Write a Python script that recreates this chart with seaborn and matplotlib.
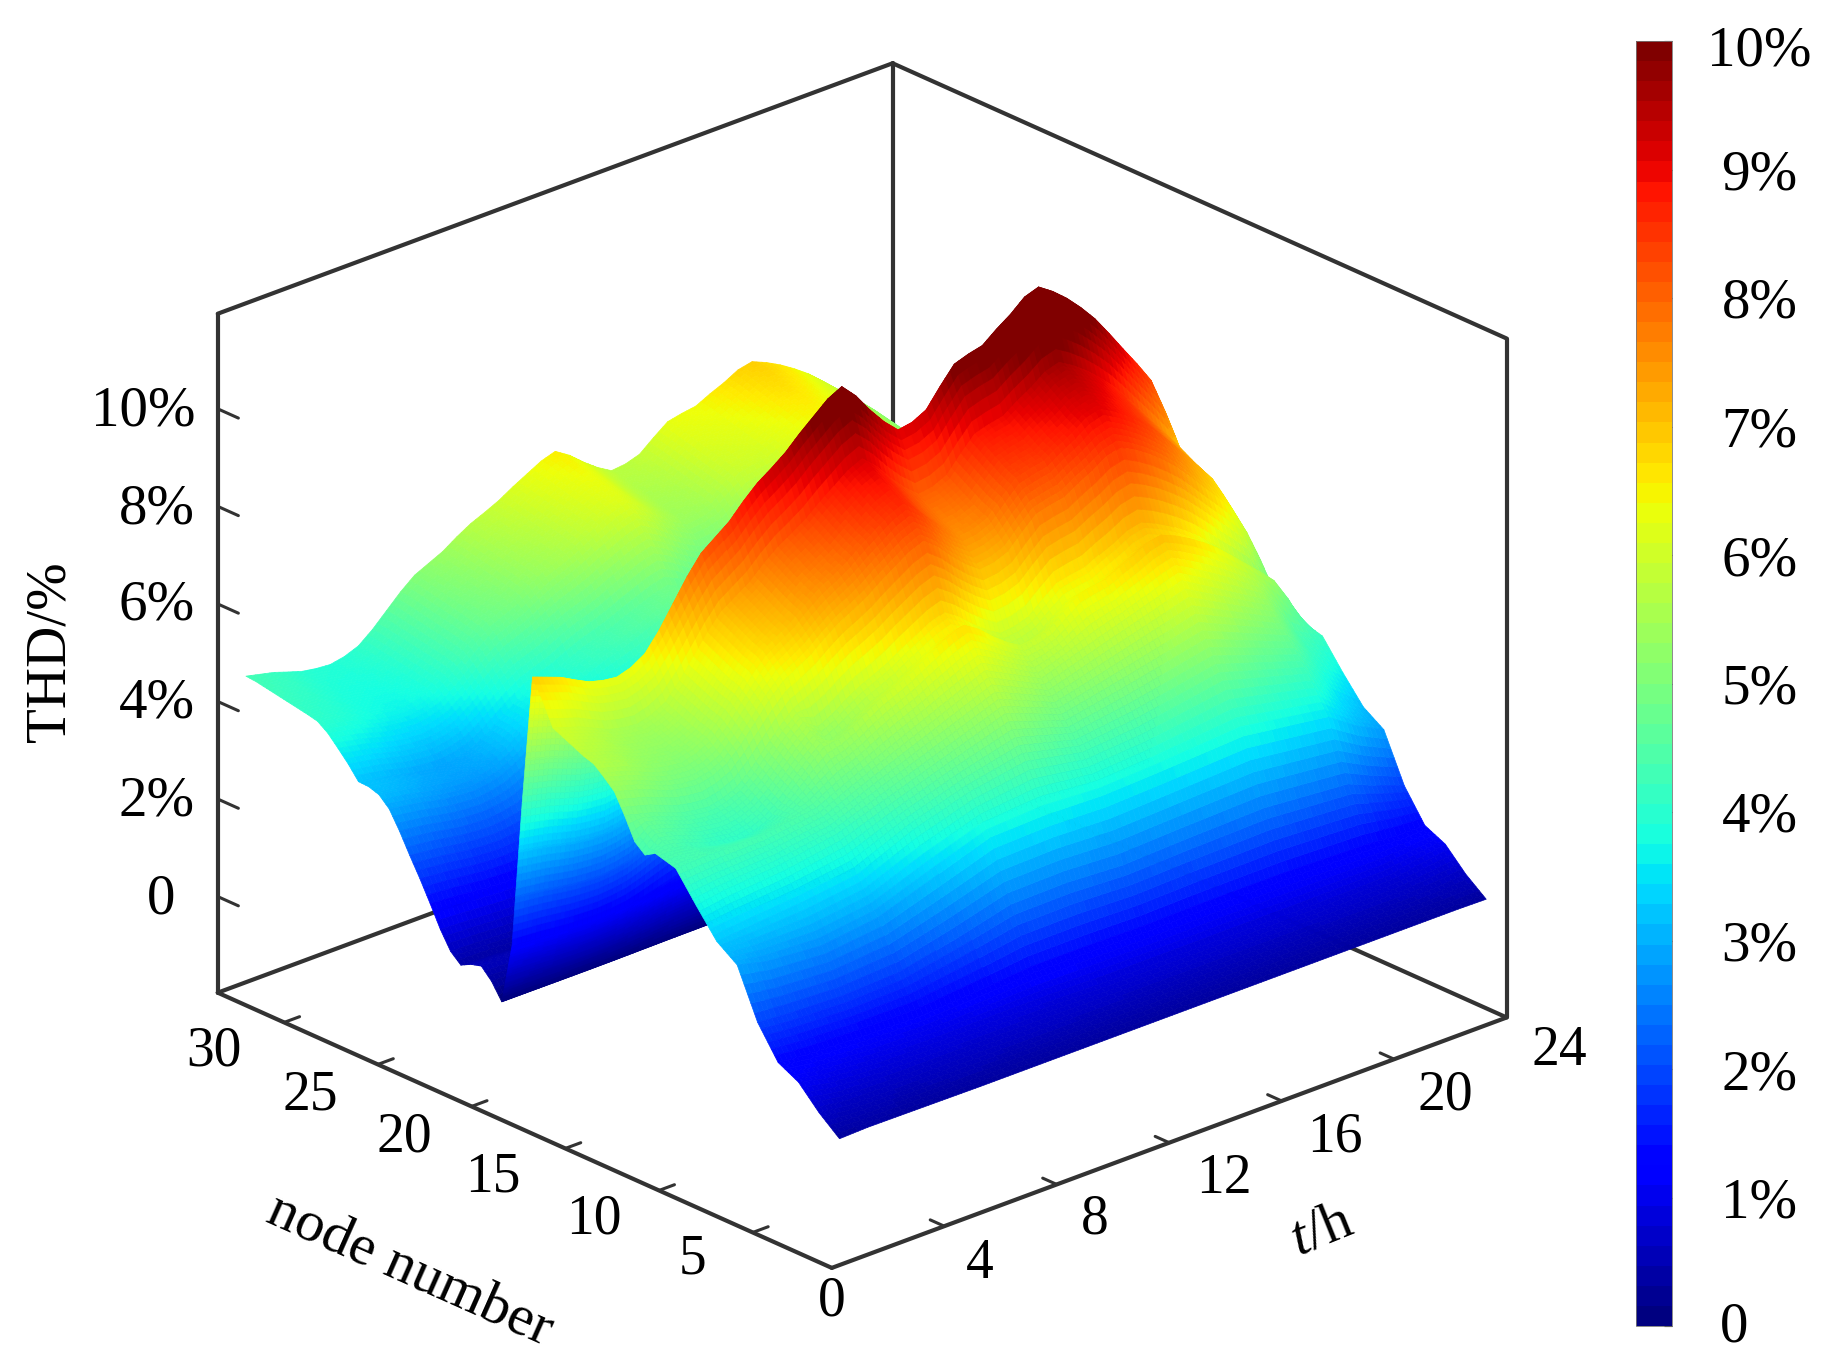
import matplotlib
matplotlib.use("Agg")
import matplotlib.pyplot as plt
from matplotlib.colors import Normalize
from matplotlib.cm import ScalarMappable
from matplotlib.transforms import ScaledTranslation
import numpy as np
import seaborn as sns

# hours and nodes, the node axis really runs to about 33.5
hours = [1 + 0.5 * i for i in range(47)]
nodes = [1.87 + 0.546 * i for i in range(59)]

# THD along the ridge for each half hour, %
ridge_thd = [7.06, 6.95, 6.84, 6.68, 6.53, 6.45, 6.41, 6.5, 6.68, 7.05, 7.5, 7.95,
             8.33, 8.55, 8.77, 9.08, 9.35, 9.55, 9.77, 10.05, 10.3, 10.55, 10.7, 10.4,
             10.0, 9.65, 9.37, 9.42, 9.57, 9.95, 10.3, 10.4, 10.47, 10.7, 10.9, 11.15,
             11.25, 11.05, 10.8, 10.5, 10.16, 9.75, 9.32, 8.9, 8.45, 7.7, 6.8]

# THD along the nodes at hour 1, %
hour1_thd = [0.35, 0.42, 0.7, 0.98, 1.14, 1.28, 1.36, 1.55, 2.0, 2.5, 3.0, 3.27,
             3.3, 3.5, 3.85, 4.17, 4.43, 4.5, 4.55, 4.42, 4.6, 5.05, 5.45, 5.65,
             5.83, 5.9, 6.0, 6.1, 6.2, 6.67, 7.06, 4.37, 1.3, 0.05, 0.38, 0.6,
             0.54, 0.43, 0.62, 0.98, 1.42, 1.84, 2.23, 2.64, 3.0, 3.2, 3.27, 3.28,
             3.55, 3.78, 4.0, 4.15, 4.2, 4.24, 4.28, 4.32, 4.36, 4.4, 4.42]

# the crest around rows 19 to 21 only starts at midday, before that the slope is even
early_crest_thd = [4.62, 4.75, 4.9]

low_hours = [1, 2, 4, 6, 8, 10, 12, 14, 16, 19, 22, 23, 24]
row1_thd = [0.35, 0.37, 0.36, 0.35, 0.35, 0.35, 0.35, 0.35, 0.35, 0.35, 0.35, 0.35, 0.34]
row2_thd = [0.70, 0.62, 0.60, 0.62, 0.60, 0.60, 0.60, 0.60, 0.60, 0.60, 0.60, 0.62, 0.67]
row3_thd = [1.14, 1.00, 0.92, 0.90, 0.90, 0.88, 0.85, 0.85, 0.85, 0.85, 0.88, 1.00, 1.10]
row4_thd = [1.36, 1.30, 1.25, 1.22, 1.30, 1.40, 1.40, 1.38, 1.40, 1.40, 1.35, 1.30, 1.30]
row5_thd = [2.00, 1.95, 1.90, 1.95, 2.20, 2.50, 2.52, 2.45, 2.50, 2.55, 2.40, 2.15, 1.93]
row6_thd = [3.00, 2.85, 2.75, 2.90, 3.30, 3.70, 3.74, 3.70, 3.75, 3.85, 3.60, 3.20, 2.90]
row7_thd = [3.30, 3.35, 3.45, 3.60, 4.10, 4.45, 4.65, 4.40, 4.50, 4.80, 4.30, 3.65, 3.18]
row8_thd = [3.85, 3.95, 4.05, 4.25, 4.65, 5.05, 5.45, 5.00, 5.25, 5.65, 4.90, 4.20, 3.70]
row9_thd = [4.43, 4.45, 4.45, 4.60, 5.15, 5.65, 6.15, 5.55, 5.95, 6.50, 5.45, 4.60, 4.27]

node_ticks = [5, 10, 15, 20, 25, 30]
hour_ticks = [4, 8, 12, 16, 20]
thd_ticks = [0, 2, 4, 6, 8, 10]
bar_ticks = [0, 1, 2, 3, 4, 5, 6, 7, 8, 9, 10]
bar_labels = ["0", "1%", "2%", "3%", "4%", "5%", "6%", "7%", "8%", "9%", "10%"]

sns.set_theme(style="white")
plt.rcParams["font.family"] = ["Liberation Serif", "DejaVu Serif"]
plt.rcParams["mathtext.fontset"] = "custom"
plt.rcParams["mathtext.it"] = "Liberation Serif:italic"
plt.rcParams["mathtext.rm"] = "Liberation Serif"

W, H = 1835, 1362
fig = plt.figure(figsize=(W / 100, H / 100), dpi=100, facecolor="white")


def label(x, y, s, size=41, **kw):
    # positions in full size pixels, from the top left
    kw.setdefault("ha", "center")
    kw.setdefault("va", "center")
    fig.text(x / W, 1 - y / H, s, fontsize=size, color="black", **kw)


nlo, nhi = 0.78, 33.54
zlo, zhi = -1.97, 11.95

ax = fig.add_axes([-73.7 / W, -3 / H, 1.0, 1.0], projection="3d", computed_zorder=False)
ax.set_proj_type("ortho")
ax.view_init(elev=24.07, azim=-132.3)
ax.set_box_aspect((1, 1, 0.815), zoom=1.0615)
ax.set_xlim(0, 24)
ax.set_ylim(nlo, nhi)
ax.set_zlim(zlo, zhi)
ax.set_axis_off()

# table of the surface, nodes in rows and hours in columns
Z = np.outer(hour1_thd, ridge_thd) / ridge_thd[0]
Z[18:21, 1:13] = np.outer(early_crest_thd, ridge_thd[1:13]) / ridge_thd[0]
low_rows = [row1_thd, row2_thd, row3_thd, row4_thd, row5_thd,
            row6_thd, row7_thd, row8_thd, row9_thd]
low = np.array([np.interp(hours, low_hours, r) for r in low_rows])
Z[0:17:2] = low
Z[1:16:2] = (low[:-1] + low[1:]) / 2
Z[17] = (Z[16] + Z[18]) / 2
# the readings above were taken against a scale of 41.2 px per % with the zero 3 px lower
Z = Z * 0.99 - 0.07

# finer mesh for drawing only, the reference is shaded smoothly and mplot3d paints
# each cell flat. the values themselves stay the ones above
fine_hours = np.linspace(hours[0], hours[-1], 3 * (len(hours) - 1) + 1)
fine_nodes = np.linspace(nodes[0], nodes[-1], 3 * (len(nodes) - 1) + 1)
fine_nodes = np.union1d(fine_nodes, np.linspace(nodes[30], nodes[33], 61))
Z_fine = np.array([np.interp(fine_hours, hours, row) for row in Z])
Z_fine = np.array([np.interp(fine_nodes, nodes, col) for col in Z_fine.T]).T

jet = plt.get_cmap("jet")
T, N = np.meshgrid(fine_hours, fine_nodes)
surf = ax.plot_surface(T, N, Z_fine, cmap=jet, vmin=0, vmax=10, rstride=1, cstride=1,
                       linewidth=0.5, antialiased=True, shade=False, zorder=3)
surf.set_edgecolor("face")

# box edges
line = dict(color="#333333", lw=3, zorder=1, solid_capstyle="round")
ax.plot([0, 24], [nlo, nlo], [zlo, zlo], **line)
ax.plot([0, 0], [nlo, nhi], [zlo, zlo], **line)
ax.plot([0, 24], [nhi, nhi], [zlo, zlo], **line)
ax.plot([24, 24], [nlo, nhi], [zlo, zlo], **line)
ax.plot([0, 0], [nhi, nhi], [zlo, zhi], **line)
ax.plot([24, 24], [nlo, nlo], [zlo, zhi], **line)
ax.plot([24, 24], [nhi, nhi], [zlo, zhi], **line)
ax.plot([0, 24], [nhi, nhi], [zhi, zhi], **line)
ax.plot([24, 24], [nlo, nhi], [zhi, zhi], **line)

# ticks
tick = dict(color="#333333", lw=2.2, zorder=1)
for n in node_ticks:
    ax.plot([0, 0.55], [n, n], [zlo, zlo], **tick)
for h in hour_ticks:
    ax.plot([h, h], [nlo, nlo + 0.75], [zlo, zlo], **tick)
for z in thd_ticks:
    ax.plot([0, 0], [nhi, nhi - 1.1], [z, z], **tick)

for n, x, y in zip([30, 25, 20, 15, 10, 5, 0],
                   [214, 310, 404, 493, 594, 692, 832],
                   [1051, 1096, 1137, 1177, 1220, 1260, 1301]):
    label(x, y, str(n), size=40)
for h, x, y in zip([4, 8, 12, 16, 20, 24],
                   [980, 1095, 1224, 1335, 1445, 1559],
                   [1264, 1220, 1179, 1137, 1095, 1051]):
    label(x, y, str(h), size=40)
for z, y in zip(thd_ticks, [899, 801, 704, 606, 510, 412]):
    s = "0" if z == 0 else f"{z}%"
    label(175 if z == 0 else 195, y, s, ha="right")

label(50, 652, "THD/%", rotation=90)
label(410, 1270, "node number", size=42, rotation=-24, rotation_mode="anchor")
label(1322, 1231, r"$\mathit{t}$/h", size=42, rotation=22, rotation_mode="anchor")

# colorbar
cax = fig.add_axes([1636 / W, 1 - 1326 / H, 36 / W, 1285 / H])
bands = plt.get_cmap("jet", 64)
cbar = fig.colorbar(ScalarMappable(Normalize(0, 10), bands), cax=cax, ticks=bar_ticks)
cbar.ax.set_yticklabels(bar_labels, ha="center")
cbar.ax.tick_params(labelsize=41, length=6, width=0.8, direction="in", pad=63,
                    colors="black", right=True)
cbar.outline.set_linewidth(0.6)
cbar.outline.set_edgecolor("#777777")
# the end labels sit a little off their ticks in the reference
tick_texts = cbar.ax.get_yticklabels()
tick_texts[0].set_transform(tick_texts[0].get_transform()
                            + ScaledTranslation(-0.25, 0.04, fig.dpi_scale_trans))
tick_texts[-1].set_transform(tick_texts[-1].get_transform()
                             + ScaledTranslation(0, -0.05, fig.dpi_scale_trans))

fig.savefig("out.png", dpi=100)
